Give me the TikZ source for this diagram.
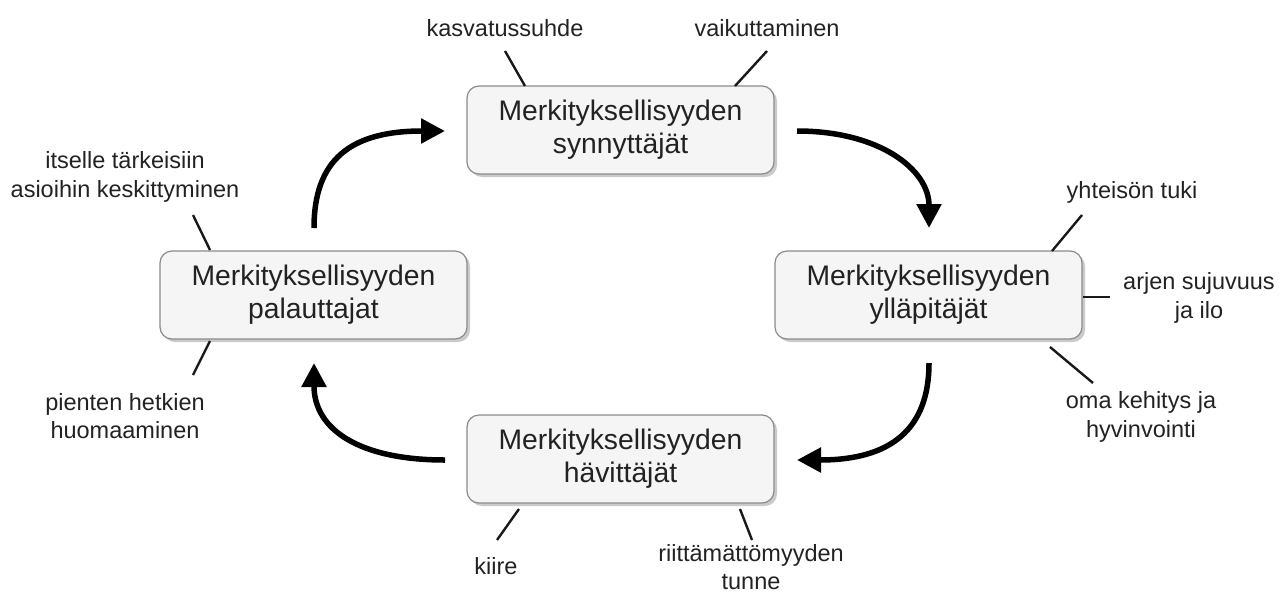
\documentclass[tikz,border=0pt]{standalone}
\usepackage{fontspec}
\setmainfont{Liberation Sans}
\usetikzlibrary{arrows.meta,shadows}
\definecolor{txt}{HTML}{222222}
\definecolor{boxfill}{HTML}{F5F5F5}
\definecolor{boxline}{HTML}{8A8A8A}
\begin{document}
\begin{tikzpicture}[x=1pt,y=-1pt,
  phase/.style={draw=boxline,line width=1.2pt,fill=boxfill,rounded corners=12pt,
    minimum width=307pt,minimum height=88pt,align=center,text=txt,
    font=\fontsize{28.3}{33}\selectfont,inner sep=0pt,
    drop shadow={shadow xshift=3pt,shadow yshift=-3pt,fill=black!35,opacity=0.6}},
  lbl/.style={align=center,text=txt,font=\fontsize{23.5}{28.8}\selectfont,inner sep=0pt},
  tick/.style={line width=2.4pt,draw=black!90},
  flow/.style={line width=5.5pt,-{Triangle[length=24pt,width=24pt]}}]
\useasboundingbox (0,0) rectangle (1287,595);
% boxes
\node[phase] (top) at (620.5,130) {Merkityksellisyyden\\synnyttäjät};
\node[phase] (right) at (928.5,295) {Merkityksellisyyden\\ylläpitäjät};
\node[phase] (bottom) at (620.5,459) {Merkityksellisyyden\\hävittäjät};
\node[phase] (left) at (313.5,295) {Merkityksellisyyden\\palauttajat};
% labels
\node[lbl] (l1) at (505,28) {kasvatussuhde};
\node[lbl] (l2) at (767,28) {vaikuttaminen};
\node[lbl] (l3) at (125,177) {itselle tärkeisiin\\asioihin keskittyminen};
\node[lbl] (l4) at (125,416) {pienten hetkien\\huomaaminen};
\node[lbl] (l5) at (496,566) {kiire};
\node[lbl] (l6) at (751,567) {riittämättömyyden\\tunne};
\node[lbl] (l7) at (1132,192) {yhteisön tuki};
\node[lbl] (l8) at (1199,298) {arjen sujuvuus\\ja ilo};
\node[lbl] (l9) at (1141,417) {oma kehitys ja\\hyvinvointi};
% tick lines
\coordinate (a1) at (505,51); \coordinate (b1) at (525,86);
\coordinate (a2) at (767,51); \coordinate (b2) at (735,86);
\coordinate (a3) at (193,215); \coordinate (b3) at (210,250);
\coordinate (a4) at (193,375); \coordinate (b4) at (210,341);
\coordinate (a5) at (497,540); \coordinate (b5) at (519,509);
\coordinate (a6) at (752,540); \coordinate (b6) at (740,509);
\coordinate (a7) at (1082,215); \coordinate (b7) at (1052,251);
\coordinate (a8) at (1110,297); \coordinate (b8) at (1083,297);
\coordinate (a9) at (1093,383); \coordinate (b9) at (1050,347);
\foreach \i in {1,...,9} {\draw[tick] (a\i) -- (b\i);}
% flow arrows
\coordinate (s1) at (314,228); \coordinate (e1) at (445,131);
\coordinate (s2) at (797,131); \coordinate (e2) at (929,228);
\coordinate (s3) at (929,363); \coordinate (e3) at (797,460);
\coordinate (s4) at (445,460); \coordinate (e4) at (314,363);
\draw[flow] (s1) .. controls (314,160) and (350,131) .. (e1);
\draw[flow] (s2) .. controls (880,131) and (929,170) .. (e2);
\draw[flow] (s3) .. controls (929,430) and (890,460) .. (e3);
\draw[flow] (s4) .. controls (360,460) and (314,430) .. (e4);
\end{tikzpicture}
\end{document}
